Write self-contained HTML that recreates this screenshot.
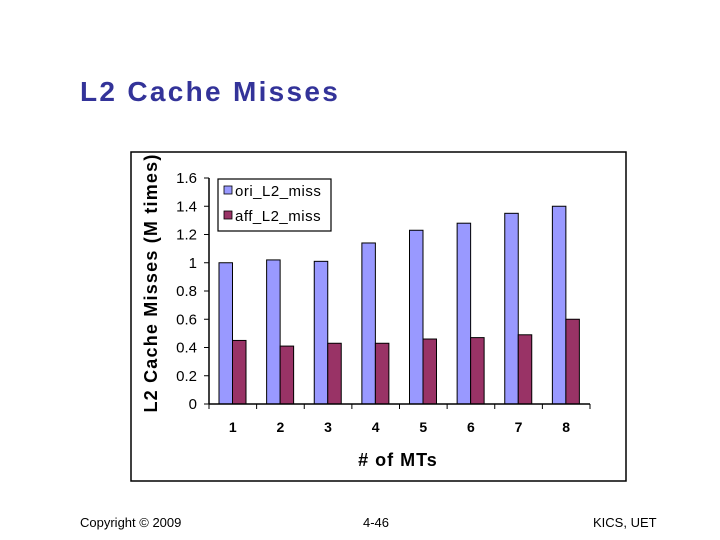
<!DOCTYPE html>
<html><head><meta charset="utf-8"><style>
body{margin:0;width:720px;height:540px;background:#fff;position:relative;overflow:hidden;font-family:"Liberation Sans",sans-serif}
.t{position:absolute;white-space:nowrap}
</style></head><body>
<div class="t" style="left:80px;top:76px;font-size:28px;font-weight:bold;color:#333399;letter-spacing:2.3px">L2 Cache Misses</div>
<svg width="720" height="540" style="position:absolute;left:0;top:0" id="svg"></svg>
<div class="t" style="left:80px;top:515px;font-size:13px">Copyright © 2009</div>
<div class="t" style="left:363px;top:515px;font-size:13px">4-46</div>
<div class="t" style="left:593px;top:515px;font-size:13px">KICS, UET</div>
<script>
const categories=["1","2","3","4","5","6","7","8"];
const oriValues=[1.0,1.02,1.01,1.14,1.23,1.28,1.35,1.40];
const affValues=[0.45,0.41,0.43,0.43,0.46,0.47,0.49,0.60];
const yTicks=["0","0.2","0.4","0.6","0.8","1","1.2","1.4","1.6"];
const NS="http://www.w3.org/2000/svg",svg=document.getElementById('svg');
function mk(t,a,txt){const e=document.createElementNS(NS,t);for(const k in a)e.setAttribute(k,a[k]);if(txt!=null)e.textContent=txt;svg.appendChild(e);return e;}
const x0=209,x1=590,y0=404,yTop=178,yMax=1.6;
const ys=v=>y0-(v/yMax)*(y0-yTop);
const cw=(x1-x0)/categories.length;
let e=mk('rect',{x:131,y:152,width:495,height:329,fill:'#fff',stroke:'#000','stroke-width':1.5});

yTicks.forEach(t=>{const y=ys(parseFloat(t));
 let l=mk('line',{x1:x0-5,x2:x0,y1:y,y2:y,stroke:'#000'});
 let tx=mk('text',{x:x0-12,y:y+5,'text-anchor':'end','font-size':15,'font-family':'Liberation Sans'},t);});
categories.forEach((c,i)=>{const cx=x0+cw*i;
 let b1=mk('rect',{x:cx+10,y:ys(oriValues[i]),width:13.5,height:y0-ys(oriValues[i]),fill:'#9999ff',stroke:'#000','stroke-width':1});
 
 let b2=mk('rect',{x:cx+23.5,y:ys(affValues[i]),width:13.5,height:y0-ys(affValues[i]),fill:'#993366',stroke:'#000','stroke-width':1});
 
 let tk=mk('line',{x1:cx,x2:cx,y1:y0,y2:y0+5,stroke:'#000'});
 let tx=mk('text',{x:cx+cw/2,y:y0+28,'text-anchor':'middle','font-size':14,'font-weight':'bold','font-family':'Liberation Sans'},c);});
let tk=mk('line',{x1:x1,x2:x1,y1:y0,y2:y0+5,stroke:'#000'});
let ax=mk('line',{x1:x0,x2:x1,y1:y0,y2:y0,stroke:'#000','stroke-width':1.5});
let ay=mk('line',{x1:x0,x2:x0,y1:yTop,y2:y0,stroke:'#000','stroke-width':1.5});
let xt=mk('text',{x:398,y:466,'text-anchor':'middle','font-size':18,'font-weight':'bold','letter-spacing':1,'font-family':'Liberation Sans'},'# of MTs');
let yt=mk('text',{x:0,y:0,transform:'translate(157,283) rotate(-90)','text-anchor':'middle','font-size':18,'font-weight':'bold','letter-spacing':1.2,'font-family':'Liberation Sans'},'L2 Cache Misses (M times)');
let lg=mk('rect',{x:218,y:179,width:113,height:52,fill:'#fff',stroke:'#000','stroke-width':1.2});
[['ori_L2_miss','#9999ff',191],['aff_L2_miss','#993366',216]].forEach(([n,c,y])=>{
 let s=mk('rect',{x:224,y:y-5,width:8,height:8,fill:c,stroke:'#000','stroke-width':0.8});
 let t=mk('text',{x:235,y:y+5,'font-size':15,'letter-spacing':0.5,'font-family':'Liberation Sans'},n);});
</script>
</body></html>
